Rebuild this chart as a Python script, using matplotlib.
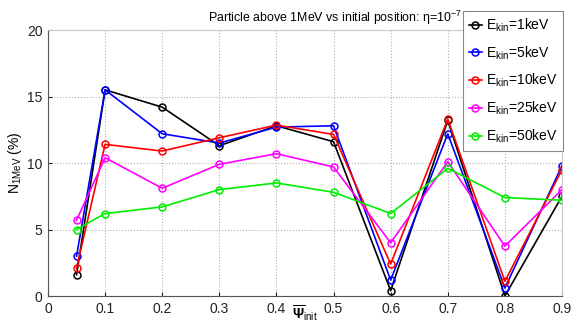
import matplotlib
matplotlib.use('Agg')
import matplotlib.pyplot as plt

plt.rcParams['font.family'] = ['Liberation Sans', 'DejaVu Sans']
plt.rcParams['mathtext.fontset'] = 'custom'
plt.rcParams['mathtext.rm'] = 'Liberation Sans'
plt.rcParams['mathtext.it'] = 'Liberation Sans'
plt.rcParams['mathtext.bf'] = 'Liberation Sans:bold'

# initial position (normalised psi)
psi_init = [0.05, 0.1, 0.2, 0.3, 0.4, 0.5, 0.6, 0.7, 0.8, 0.9]

# fraction of particles above 1 MeV (%), one list per initial energy
n_1kev = [1.6, 15.5, 14.2, 11.3, 12.8, 11.6, 0.4, 13.2, 0.0, 7.5]
n_5kev = [3.0, 15.5, 12.2, 11.5, 12.7, 12.8, 1.2, 12.2, 0.6, 9.8]
n_10kev = [2.1, 11.4, 10.9, 11.9, 12.85, 12.15, 2.4, 13.3, 1.1, 9.5]
n_25kev = [5.7, 10.4, 8.1, 9.9, 10.7, 9.7, 4.0, 10.1, 3.75, 8.0]
n_50kev = [5.0, 6.2, 6.7, 8.0, 8.5, 7.8, 6.2, 9.6, 7.4, 7.2]

labels = ['1keV', '5keV', '10keV', '25keV', '50keV']
colors = ['#000000', '#0000ff', '#ff0000', '#ff00ff', '#00ee00']

fig = plt.figure(figsize=(5.72, 3.29), dpi=100)
ax = fig.add_axes([0.0839, 0.1003, 0.8986, 0.8085])

series = [n_1kev, n_5kev, n_10kev, n_25kev, n_50kev]
for vals, lab, c in zip(series, labels, colors):
    ax.plot(psi_init, vals, '-o', color=c, lw=1.2, ms=5, mfc='none', mew=1.1,
            label=r'E$_{kin}$=' + lab)

ax.set_xlim(0, 0.9)
ax.set_ylim(0, 20)
ax.set_xticks([0, 0.1, 0.2, 0.3, 0.4, 0.5, 0.6, 0.7, 0.8, 0.9])
ax.set_xticklabels(['0', '0.1', '0.2', '0.3', '0.4', '0.5', '0.6', '0.7', '0.8', '0.9'])
ax.set_yticks([0, 5, 10, 15, 20])
ax.grid(True, ls=':', color='#b0b0b0', lw=0.8)
ax.tick_params(direction='in', length=3, labelsize=10, colors='#222222', pad=4)

for s in ['left', 'bottom']:
    ax.spines[s].set_color('#555555')
for s in ['top', 'right']:
    ax.spines[s].set_color('#c8c8c8')

ax.set_ylabel(r'N$_{1MeV}$ (%)', fontsize=10, labelpad=2)
ax.set_xlabel(r'$\overline{\mathbf{\Psi}}_{init}$', fontsize=10, labelpad=-9)

fig.text(0.807, 0.945, r'Particle above 1MeV vs initial position: $\eta$=10$^{-7}$',
         ha='right', va='center', fontsize=8.9)

leg = ax.legend(loc='upper right', bbox_to_anchor=(0.984, 0.967),
                bbox_transform=fig.transFigure, borderaxespad=0, fontsize=10,
                handlelength=0.9, handletextpad=0.3, labelspacing=0.75,
                borderpad=0.4, fancybox=False, framealpha=1,
                edgecolor='#888888')
leg.get_frame().set_linewidth(0.8)

fig.savefig('out.png', dpi=100)
